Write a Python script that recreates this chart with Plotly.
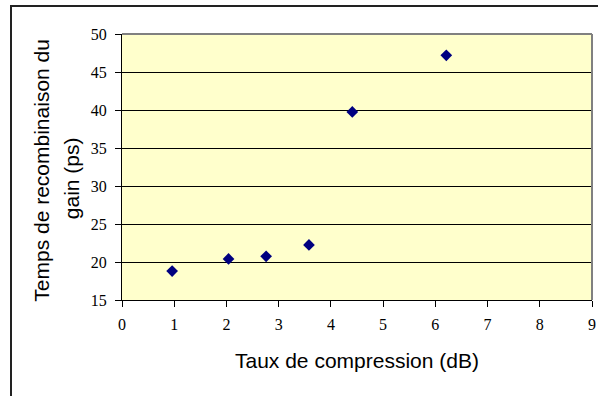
import plotly.graph_objects as go

# Data
compression_db = [0.96, 2.04, 2.76, 3.58, 4.41, 6.21]
recomb_time_ps = [18.8, 20.4, 20.75, 22.25, 39.75, 47.2]

x_ticks = [0, 1, 2, 3, 4, 5, 6, 7, 8, 9]
y_ticks = [15, 20, 25, 30, 35, 40, 45, 50]

x_title = "Taux de compression (dB)"
y_title_line1 = "Temps de recombinaison du"
y_title_line2 = "gain (ps)"

W, H = 598, 396
L, R, T, B = 122, 6, 34, 96
pw, ph = W - L - R, H - T - B


def px(x):
    return (x - L) / pw


def py(y):
    return (H - B - y) / ph


fig = go.Figure()
fig.add_trace(go.Scatter(
    x=compression_db, y=recomb_time_ps, mode="markers",
    marker=dict(symbol="diamond", size=9, color="#000080",
                line=dict(width=0)),
    showlegend=False, cliponaxis=False,
))

tick_font = dict(family="Liberation Serif", size=16, color="black")
title_font = dict(family="Liberation Sans", size=21, color="black")

fig.update_layout(
    width=W, height=H,
    margin=dict(l=L, r=R, t=T, b=B, pad=0, autoexpand=False),
    paper_bgcolor="white",
    plot_bgcolor="#FFFFCC",
    font=dict(family="Liberation Serif"),
    xaxis=dict(range=[0, 9], tickvals=x_ticks, ticks="outside", ticklen=6,
               tickcolor="black", showline=True, linecolor="black",
               linewidth=1, showgrid=False, zeroline=False,
               tickfont=tick_font, ticklabelstandoff=4, fixedrange=True,
               automargin=False),
    yaxis=dict(range=[15, 50], tickvals=y_ticks, ticks="outside", ticklen=6,
               tickcolor="black", showline=True, linecolor="black",
               linewidth=1, showgrid=True, gridcolor="black", gridwidth=1,
               zeroline=False, tickfont=tick_font, ticklabelstandoff=5,
               fixedrange=True, automargin=False),
    shapes=[
        # outer chart frame (top & left visible)
        dict(type="rect", xref="paper", yref="paper",
             x0=px(11), x1=px(W + 20), y0=py(H + 20), y1=py(6),
             line=dict(color="#222222", width=2), layer="above"),
        # plot-area border: top & right in gray
        dict(type="line", xref="paper", yref="paper", x0=0, x1=1, y0=1, y1=1,
             line=dict(color="#808080", width=2), layer="above"),
        dict(type="line", xref="paper", yref="paper", x0=1, x1=1, y0=0, y1=1,
             line=dict(color="#808080", width=2), layer="above"),
    ],
    annotations=[
        dict(text=x_title, xref="paper", yref="paper", x=0.5, y=py(360.7),
             showarrow=False, font=title_font, xanchor="center",
             yanchor="middle"),
        dict(text=y_title_line1, xref="paper", yref="paper", x=px(40.7),
             y=py(170), showarrow=False, font=title_font, textangle=-90,
             xanchor="center", yanchor="middle"),
        dict(text=y_title_line2, xref="paper", yref="paper", x=px(71.7),
             y=py(178.5), showarrow=False, font=title_font, textangle=-90,
             xanchor="center", yanchor="middle"),
    ],
)

fig.write_html(
    "out.html",
    config={"displayModeBar": False, "staticPlot": True},
    post_script="document.body.style.margin='0';document.body.style.overflow='hidden';",
)
